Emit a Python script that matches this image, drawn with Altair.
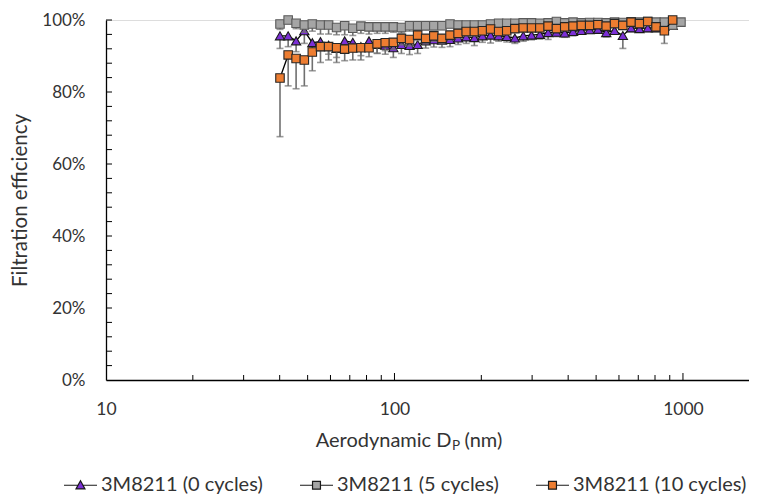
import altair as alt
import pandas as pd

# ---------------- data ----------------
diam = [40.1, 42.8, 45.6, 48.7, 51.9, 55.4, 59.1, 63.0, 67.2, 71.7,
        76.5, 81.6, 87.1, 92.9, 99.1, 105.7, 112.8, 120.3, 128.3, 136.9,
        146.1, 155.8, 166.2, 177.3, 189.2, 201.8, 215.3, 229.7, 245.0, 261.4,
        279.5, 298.6, 319.1, 340.9, 364.3, 389.2, 415.9, 444.4, 474.8, 507.3,
        542.1, 579.2, 618.9, 661.3, 706.6, 755.0, 806.7, 862.0, 921.0, 984.1]

eff_0 = [95.6, 95.6, 94.2, 97.0, 93.7, 94.0, 93.0, 92.1, 94.2, 93.8,
         92.6, 94.2, 93.2, 93.0, 92.3, 93.2, 92.9, 93.2, 94.2, 94.5,
         94.4, 94.6, 95.0, 95.3, 95.1, 95.6, 95.8, 95.6, 95.4, 95.0,
         95.6, 95.8, 96.0, 96.5, 96.6, 96.4, 96.8, 97.1, 97.3, 97.4,
         96.5, 97.1, 95.7, 97.8, 97.6, 97.8, 97.8, 98.2, 98.5]
err_0 = [3.5, 3.0, 3.0, 3.5, 3.0, 2.5, 2.5, 2.5, 3.0, 2.5,
         2.5, 2.5, 2.5, 2.5, 2.7, 2.5, 2.5, 2.5, 2.0, 2.0,
         2.0, 2.0, 1.8, 1.8, 2.2, 1.8, 2.2, 1.5, 1.5, 1.5,
         1.5, 1.3, 1.3, 1.9, 1.2, 1.2, 1.2, 1.0, 1.0, 1.0,
         1.2, 1.0, 3.6, 1.0, 1.0, 1.0, 1.0, 1.0, 1.0]

eff_5 = [98.9, 100.0, 99.1, 98.6, 98.9, 98.6, 98.6, 97.9, 98.4, 97.7,
         98.3, 98.1, 98.1, 98.1, 98.1, 97.9, 98.4, 98.4, 98.4, 98.4,
         98.4, 98.9, 98.6, 98.6, 98.6, 98.6, 98.9, 99.1, 99.1, 99.1,
         99.2, 99.2, 99.1, 99.2, 99.6, 99.2, 99.4, 99.2, 99.3, 99.3,
         99.2, 99.4, 99.3, 99.5, 99.4, 99.6, 99.4, 99.4, 98.6, 99.4]
err_5 = [1.5, 1.0, 1.5, 2.0, 2.0, 2.5, 2.5, 2.0, 2.5, 2.0,
         2.0, 2.0, 1.8, 1.8, 1.5, 1.5, 1.5, 1.2, 1.2, 1.2,
         1.0, 1.0, 1.0, 1.0, 1.0, 0.8, 0.8, 0.8, 0.8, 0.8,
         0.6, 0.6, 0.6, 0.6, 0.6, 0.6, 0.6, 0.6, 0.6, 0.6,
         0.6, 0.6, 0.6, 0.6, 0.6, 0.6, 0.6, 0.6, 1.0, 0.6]

eff_10 = [83.9, 90.3, 89.3, 88.9, 91.1, 92.6, 92.6, 92.3, 91.9, 92.2,
          92.3, 92.3, 93.4, 93.7, 93.8, 94.9, 94.6, 95.8, 94.9, 95.6,
          94.9, 95.8, 96.3, 96.8, 96.8, 97.0, 97.5, 96.8, 97.0, 97.6,
          97.8, 97.8, 97.8, 98.3, 97.6, 98.1, 98.3, 98.5, 98.5, 98.7,
          98.3, 99.0, 98.5, 99.4, 99.0, 99.6, 98.1, 97.0, 100.0]
err_10 = [16.3, 8.6, 8.4, 7.2, 5.2, 4.4, 3.7, 4.1, 3.2, 3.3,
          3.4, 2.5, 2.6, 2.2, 2.0, 1.8, 1.8, 1.5, 1.5, 1.5,
          1.5, 1.3, 1.3, 1.2, 1.2, 1.0, 1.0, 1.0, 1.0, 1.0,
          1.0, 0.8, 0.8, 0.8, 0.8, 0.8, 0.8, 0.8, 0.8, 0.8,
          0.8, 0.8, 0.8, 0.8, 0.8, 0.8, 0.8, 3.5, 0.8]

series_names = ["3M8211 (0 cycles)", "3M8211 (5 cycles)", "3M8211 (10 cycles)"]
fill_colors = ["#7B2FD6", "#A5A5A5", "#ED7D31"]
edge_colors = ["#1a1a1a", "#5a5a5a", "#262626"]
legend_line_colors = ["#1a1a1a", "#1a1a1a", "#1a1a1a"]
marker_shapes = ["triangle-up", "square", "square"]
marker_sizes = [85, 72, 72]
legend_paths = [
    "M-1,0H-0.15M0.15,0H1M-0.27,0.22L0,-0.27L0.27,0.22Z",
    "M-1,0H-0.24M0.24,0H1M-0.24,-0.24H0.24V0.24H-0.24Z",
    "M-1,0H-0.24M0.24,0H1M-0.24,-0.24H0.24V0.24H-0.24Z",
]

x_label_values = [10, 100, 1000]
x_minor_ticks = [20, 30, 40, 50, 60, 70, 80, 90, 200, 300, 400, 500, 600, 700, 800, 900]
x_major_ticks = [100, 1000]
y_label_values = [0, 0.2, 0.4, 0.6, 0.8, 1.0]
y_tick_values = [0.04, 0.08, 0.12, 0.16, 0.2, 0.24, 0.28, 0.32, 0.36, 0.4,
                 0.44, 0.48, 0.52, 0.56, 0.6, 0.64, 0.68, 0.72, 0.76, 0.8,
                 0.84, 0.88, 0.92, 0.96, 1.0]

# ---------------- chart ----------------
FONT = "Lato"
TXT = "#333333"
W, H = 643, 360

xscale = alt.Scale(type="log", domain=[10, 1694], nice=False)
yscale = alt.Scale(domain=[0, 1], nice=False, zero=True)

xaxis = alt.Axis(values=x_label_values, format="d", title=None, grid=False,
                 ticks=False, tickSize=0, domainColor="black", domainWidth=1.3,
                 labelFont=FONT, labelFontSize=17.5, labelColor=TXT,
                 labelPadding=29, labelBaseline="middle", labelFlush=False,
                 labelOverlap=False)
yaxis = alt.Axis(values=y_label_values, format=".0%", title="Filtration efficiency",
                 grid=False, ticks=False, tickSize=0, domainColor="black",
                 domainWidth=1.3, labelFont=FONT, labelFontSize=17, labelColor=TXT,
                 labelPadding=21, labelFlush=False, labelOverlap=False,
                 titleFont=FONT, titleFontSize=20.5, titleFontWeight="normal",
                 titleColor=TXT, titleX=-86, titleY=180, titleAngle=270,
                 titleBaseline="middle", titleAlign="center")


def X(field):
    return alt.X(field, type="quantitative", scale=xscale, axis=xaxis)


def Y(field):
    return alt.Y(field, type="quantitative", scale=yscale, axis=yaxis)


legend = alt.Legend(title=None, orient="none", legendX=-43, legendY=447.5,
                    direction="horizontal", columns=3, columnPadding=34,
                    symbolSize=1089, symbolStrokeWidth=1.2, symbolOpacity=1,
                    labelFont=FONT, labelFontSize=20, labelColor=TXT,
                    labelOffset=3, labelLimit=400, padding=0)

layers = []

# legend-only layer (invisible marks)
df_leg = pd.DataFrame({"d": [diam[0]] * 3, "eff": [eff_0[0] / 100] * 3,
                       "series": series_names})
layers.append(
    alt.Chart(df_leg).mark_point(filled=False, opacity=0, strokeWidth=1.2).encode(
        x=X("d"), y=Y("eff"),
        fill=alt.Fill("series:N", scale=alt.Scale(domain=series_names, range=fill_colors),
                      legend=legend, sort=series_names),
        stroke=alt.Stroke("series:N", scale=alt.Scale(domain=series_names, range=legend_line_colors),
                          legend=legend, sort=series_names),
        shape=alt.Shape("series:N", scale=alt.Scale(domain=series_names, range=legend_paths),
                        legend=legend, sort=series_names),
    )
)

# axis tick marks (inside, Excel style)
layers.append(
    alt.Chart(pd.DataFrame({"v": y_tick_values})).mark_rule(color="black", strokeWidth=1)
    .encode(y=Y("v"), x=alt.value(0), x2=alt.value(6))
)
layers.append(
    alt.Chart(pd.DataFrame({"v": x_minor_ticks})).mark_rule(color="black", strokeWidth=1)
    .encode(x=X("v"), y=alt.value(H), y2=alt.value(H - 5))
)
layers.append(
    alt.Chart(pd.DataFrame({"v": x_major_ticks})).mark_rule(color="black", strokeWidth=1)
    .encode(x=X("v"), y=alt.value(H), y2=alt.value(H - 7))
)

all_eff = [eff_0, eff_5, eff_10]
all_err = [err_0, err_5, err_10]
for k in range(3):
    e = all_eff[k]
    r = all_err[k]
    n = len(e)
    df = pd.DataFrame({
        "d": diam[:n],
        "eff": [v / 100 for v in e],
        "low": [(v - s) / 100 for v, s in zip(e, r)],
    })
    base = alt.Chart(df)
    layers.append(base.mark_rule(color="#707070", strokeWidth=1.6)
                  .encode(x=X("d"), y=Y("eff"), y2="low"))
    layers.append(base.mark_tick(orient="horizontal", color="#707070", thickness=1.6, size=7)
                  .encode(x=X("d"), y=Y("low")))
    layers.append(base.mark_line(color="black", strokeWidth=1.3)
                  .encode(x=X("d"), y=Y("eff")))
    layers.append(base.mark_point(shape=marker_shapes[k], filled=True, fill=fill_colors[k],
                                  stroke=edge_colors[k], strokeWidth=1.1,
                                  size=marker_sizes[k], opacity=1, fillOpacity=1)
                  .encode(x=X("d"), y=Y("eff")))

# x-axis title with subscript
one = pd.DataFrame({"a": [0]})
layers.append(alt.Chart(one).mark_text(text="Aerodynamic D", font=FONT, fontSize=20,
                                       color=TXT, align="right", baseline="middle")
              .encode(x=alt.value(345.5), y=alt.value(421)))
layers.append(alt.Chart(one).mark_text(text="P", font=FONT, fontSize=13.5,
                                       color=TXT, align="left", baseline="middle")
              .encode(x=alt.value(346), y=alt.value(426)))
layers.append(alt.Chart(one).mark_text(text="(nm)", font=FONT, fontSize=20,
                                       color=TXT, align="left", baseline="middle")
              .encode(x=alt.value(358.5), y=alt.value(421)))

chart = alt.layer(*layers).properties(
    width=W, height=H,
    padding={"left": 98, "top": 12, "right": 0, "bottom": 115},
    autosize=alt.AutoSizeParams(type="none"),
    background="white",
).configure_view(stroke=None).configure(font=FONT)

chart.save("out.html", embed_options={"renderer": "svg", "actions": False})
